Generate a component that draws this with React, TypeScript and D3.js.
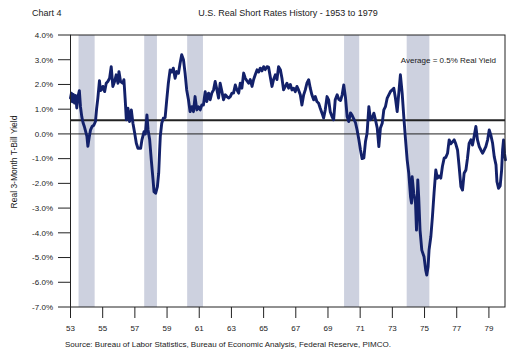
import React from "react";
import * as d3 from "d3";

const years: number[] = [
  1953.0, 1953.06, 1953.12, 1953.18, 1953.25, 1953.33, 1953.39, 1953.46, 1953.55, 1953.62,
  1953.7, 1953.78, 1953.86, 1953.94, 1954.02, 1954.08, 1954.16, 1954.24, 1954.34, 1954.45,
  1954.55, 1954.62, 1954.7, 1954.8, 1954.86, 1954.91, 1955.01, 1955.12, 1955.22, 1955.32,
  1955.43, 1955.53, 1955.63, 1955.74, 1955.84, 1955.95, 1956.01, 1956.11, 1956.26, 1956.32,
  1956.4, 1956.47, 1956.57, 1956.67, 1956.78, 1956.88, 1956.99, 1957.09, 1957.19, 1957.36,
  1957.44, 1957.57, 1957.65, 1957.75, 1957.82, 1957.92, 1958.02, 1958.13, 1958.19, 1958.29,
  1958.4, 1958.48, 1958.54, 1958.58, 1958.67, 1958.77, 1958.88, 1958.98, 1959.08, 1959.19,
  1959.29, 1959.39, 1959.5, 1959.6, 1959.71, 1959.81, 1959.91, 1960.02, 1960.12, 1960.22,
  1960.33, 1960.43, 1960.54, 1960.64, 1960.74, 1960.85, 1960.95, 1961.06, 1961.16, 1961.26,
  1961.37, 1961.47, 1961.58, 1961.68, 1961.78, 1961.89, 1961.99, 1962.1, 1962.2, 1962.3,
  1962.41, 1962.51, 1962.62, 1962.72, 1962.82, 1962.93, 1963.03, 1963.13, 1963.24, 1963.34,
  1963.45, 1963.55, 1963.65, 1963.76, 1963.86, 1963.96, 1964.07, 1964.17, 1964.28, 1964.38,
  1964.48, 1964.59, 1964.69, 1964.79, 1964.9, 1965.0, 1965.1, 1965.21, 1965.31, 1965.41,
  1965.52, 1965.62, 1965.73, 1965.83, 1965.93, 1966.04, 1966.14, 1966.24, 1966.35, 1966.45,
  1966.55, 1966.66, 1966.76, 1966.86, 1966.97, 1967.07, 1967.17, 1967.28, 1967.38, 1967.49,
  1967.59, 1967.69, 1967.8, 1967.9, 1968.0, 1968.11, 1968.21, 1968.31, 1968.42, 1968.52,
  1968.63, 1968.73, 1968.83, 1968.94, 1969.04, 1969.14, 1969.25, 1969.35, 1969.45, 1969.57,
  1969.67, 1969.78, 1969.88, 1969.98, 1970.09, 1970.19, 1970.29, 1970.4, 1970.5, 1970.61,
  1970.71, 1970.81, 1970.92, 1971.02, 1971.12, 1971.23, 1971.33, 1971.43, 1971.54, 1971.64,
  1971.75, 1971.85, 1971.95, 1972.06, 1972.16, 1972.26, 1972.37, 1972.47, 1972.57, 1972.68,
  1972.78, 1972.88, 1972.99, 1973.09, 1973.19, 1973.3, 1973.4, 1973.5, 1973.61, 1973.71,
  1973.82, 1973.92, 1974.02, 1974.13, 1974.19, 1974.23, 1974.33, 1974.44, 1974.5, 1974.58,
  1974.64, 1974.72, 1974.83, 1974.97, 1975.07, 1975.14, 1975.22, 1975.28, 1975.39, 1975.49,
  1975.59, 1975.7, 1975.8, 1975.9, 1976.01, 1976.11, 1976.22, 1976.32, 1976.43, 1976.53,
  1976.63, 1976.74, 1976.84, 1976.94, 1977.05, 1977.15, 1977.26, 1977.36, 1977.46, 1977.57,
  1977.67, 1977.77, 1977.88, 1977.98, 1978.08, 1978.19, 1978.29, 1978.4, 1978.5, 1978.61,
  1978.71, 1978.81, 1978.92, 1979.02, 1979.12, 1979.23, 1979.33, 1979.44, 1979.5, 1979.6,
  1979.7, 1979.79, 1979.85, 1979.91, 1979.97, 1980.03,
];

const realYield: number[] = [
  1.45, 1.65, 1.3, 1.6, 1.25, 1.55, 1.05, 1.5, 1.75, 1.1,
  0.7, 0.45, 0.3, 0.1, -0.1, -0.5, -0.15, 0.15, 0.3, 0.35,
  0.5, 1.0, 1.45, 2.15, 1.75, 1.78, 1.92, 1.71, 2.05, 2.12,
  2.25, 2.72, 1.92, 2.12, 2.39, 2.05, 2.52, 2.12, 2.05, 2.19,
  1.38, 0.57, 1.04, 0.5, 0.97, 0.43, 0.03, -0.38, -0.58, -0.58,
  -0.24, 0.09, 0.0, 0.77, 0.16, -0.24, -1.05, -1.86, -2.34, -2.4,
  -2.13, -1.59, -0.65, -0.1, 0.43, 0.64, 0.66, 1.38, 2.05, 2.59,
  2.5, 2.66, 2.25, 2.52, 2.45, 2.86, 3.2, 3.0, 2.46, 1.78,
  1.38, 0.9, 1.1, 0.9, 1.51, 0.97, 1.1, 0.97, 1.17, 1.17,
  1.71, 1.31, 1.65, 1.38, 1.65, 1.78, 2.12, 1.78, 1.45, 2.05,
  1.71, 1.38, 1.58, 1.51, 1.45, 1.51, 1.65, 1.65, 1.98, 1.78,
  1.65, 2.05, 1.85, 2.46, 2.25, 2.15, 2.05, 2.2, 1.92, 2.2,
  2.39, 2.59, 2.5, 2.66, 2.55, 2.72, 2.6, 2.72, 2.7, 2.32,
  1.92, 2.2, 2.39, 2.2, 2.72, 2.6, 2.25, 1.78, 1.92, 2.05,
  1.85, 2.0, 1.78, 1.85, 1.71, 1.92, 1.78, 1.58, 1.17, 1.58,
  1.78, 2.05, 2.19, 1.85, 1.58, 1.38, 1.51, 1.31, 1.24, 1.04,
  0.84, 0.64, 0.97, 1.51, 1.38, 0.9, 0.7, 0.57, 1.38, 1.58,
  1.4, 1.35, 1.58, 1.98, 1.45, 0.7, 0.5, 0.85, 0.75, 0.6,
  0.45, 0.16, -0.24, -0.65, -1.0, -0.97, -0.31, 0.03, 1.1, 0.57,
  0.65, 0.84, 0.57, 0.24, -0.51, 0.24, 0.43, 0.97, 1.1, 1.45,
  1.58, 1.71, 1.78, 1.85, 1.45, 0.9, 1.65, 2.39, 1.65, 0.7,
  -0.24, -1.05, -1.59, -2.54, -2.8, -1.73, -2.4, -2.8, -3.89, -1.86,
  -2.6, -3.89, -4.7, -4.97, -5.5, -5.71, -5.37, -4.7, -4.16, -3.35,
  -2.4, -1.46, -1.79, -1.7, -1.79, -1.32, -0.98, -0.95, -0.78, -0.24,
  -0.4, -0.32, -0.24, -0.4, -0.65, -1.32, -2.13, -2.27, -1.59, -1.46,
  -0.98, -0.38, -0.24, -0.45, -0.11, 0.3, -0.24, -0.51, -0.65, -0.78,
  -0.65, -0.51, -0.24, 0.16, -0.05, -0.38, -0.92, -1.25, -1.93, -2.2,
  -2.1, -1.46, -0.65, -0.24, -0.8, -1.05,
];

const recessionStart: number[] = [1953.5, 1957.58, 1960.25, 1970.0, 1973.89];
const recessionEnd: number[] = [1954.5, 1958.37, 1961.23, 1970.94, 1975.3];

const yTicks: number[] = [4, 3, 2, 1, 0, -1, -2, -3, -4, -5, -6, -7];
const xTicks: number[] = [1953, 1955, 1957, 1959, 1961, 1963, 1965, 1967, 1969, 1971, 1973, 1975, 1977, 1979];
const averageYield = 0.55;

const titleText = "U.S. Real Short Rates History - 1953 to 1979";
const chartLabel = "Chart 4";
const yAxisTitle = "Real 3-Month T-Bill Yield";
const averageLabel = "Average = 0.5% Real Yield";
const sourceText = "Source: Bureau of Labor Statistics, Bureau of Economic Analysis, Federal Reserve, PIMCO.";

const FONT = "'Liberation Sans', Arial, Helvetica, sans-serif";

export default function App() {
  const left = 70.5;
  const right = 505;
  const top = 35;
  const bottom = 307;

  const x = d3.scaleLinear().domain([1953, 1980]).range([left, right]);
  const y = d3.scaleLinear().domain([-7, 4]).range([bottom, top]);

  const pts: [number, number][] = years.map((yr, i) => [yr, realYield[i]]);
  const line = d3
    .line<[number, number]>()
    .x((d) => x(d[0]))
    .y((d) => y(d[1]));

  const textColor = "#1a1a1a";

  return (
    <div style={{ position: "absolute", left: 0, top: 0 }}>
      <svg width={520} height={360} style={{ display: "block", background: "#fff" }}>
        <rect x={0} y={0} width={520} height={360} fill="#fff" />
        <text x={32} y={16} fontFamily={FONT} fontSize={9} fill={textColor}>
          {chartLabel}
        </text>
        <text x={288} y={16} fontFamily={FONT} fontSize={9} fill={textColor} textAnchor="middle">
          {titleText}
        </text>

        {recessionStart.map((s, i) => (
          <rect
            key={"r" + i}
            x={x(s)}
            y={top}
            width={x(recessionEnd[i]) - x(s)}
            height={bottom - top}
            fill="#cdd1df"
          />
        ))}

        <line x1={left} x2={right} y1={y(0)} y2={y(0)} stroke="#222" strokeWidth={1} />
        <line x1={left} x2={right} y1={y(averageYield)} y2={y(averageYield)} stroke="#222" strokeWidth={2} />

        <path
          d={line(pts) || ""}
          fill="none"
          stroke="#13216a"
          strokeWidth={2.9}
          strokeLinejoin="round"
          strokeLinecap="round"
        />

        <rect x={left} y={top} width={right - left} height={bottom - top} fill="none" stroke="#222" strokeWidth={1} />

        {yTicks.map((t) => (
          <g key={"y" + t}>
            <line x1={58} x2={left} y1={y(t)} y2={y(t)} stroke="#222" strokeWidth={1} />
            <text
              x={53}
              y={y(t)}
              dy="0.35em"
              fontFamily={FONT}
              fontSize={8}
              fill={textColor}
              textAnchor="end"
            >
              {t.toFixed(1) + "%"}
            </text>
          </g>
        ))}

        {xTicks.map((t) => (
          <g key={"x" + t}>
            <line x1={x(t)} x2={x(t)} y1={bottom} y2={bottom + 11} stroke="#222" strokeWidth={1} />
            <text x={x(t)} y={331} fontFamily={FONT} fontSize={8} fill={textColor} textAnchor="middle">
              {String(t % 100)}
            </text>
          </g>
        ))}

        <text
          transform={`translate(17, 162) rotate(-90)`}
          fontFamily={FONT}
          fontSize={8.5}
          fill={textColor}
          textAnchor="middle"
        >
          {yAxisTitle}
        </text>

        <text x={496} y={63} fontFamily={FONT} fontSize={8} fill={textColor} textAnchor="end">
          {averageLabel}
        </text>

        <text x={65} y={347} fontFamily={FONT} fontSize={8} fill={textColor}>
          {sourceText}
        </text>
      </svg>
    </div>
  );
}
